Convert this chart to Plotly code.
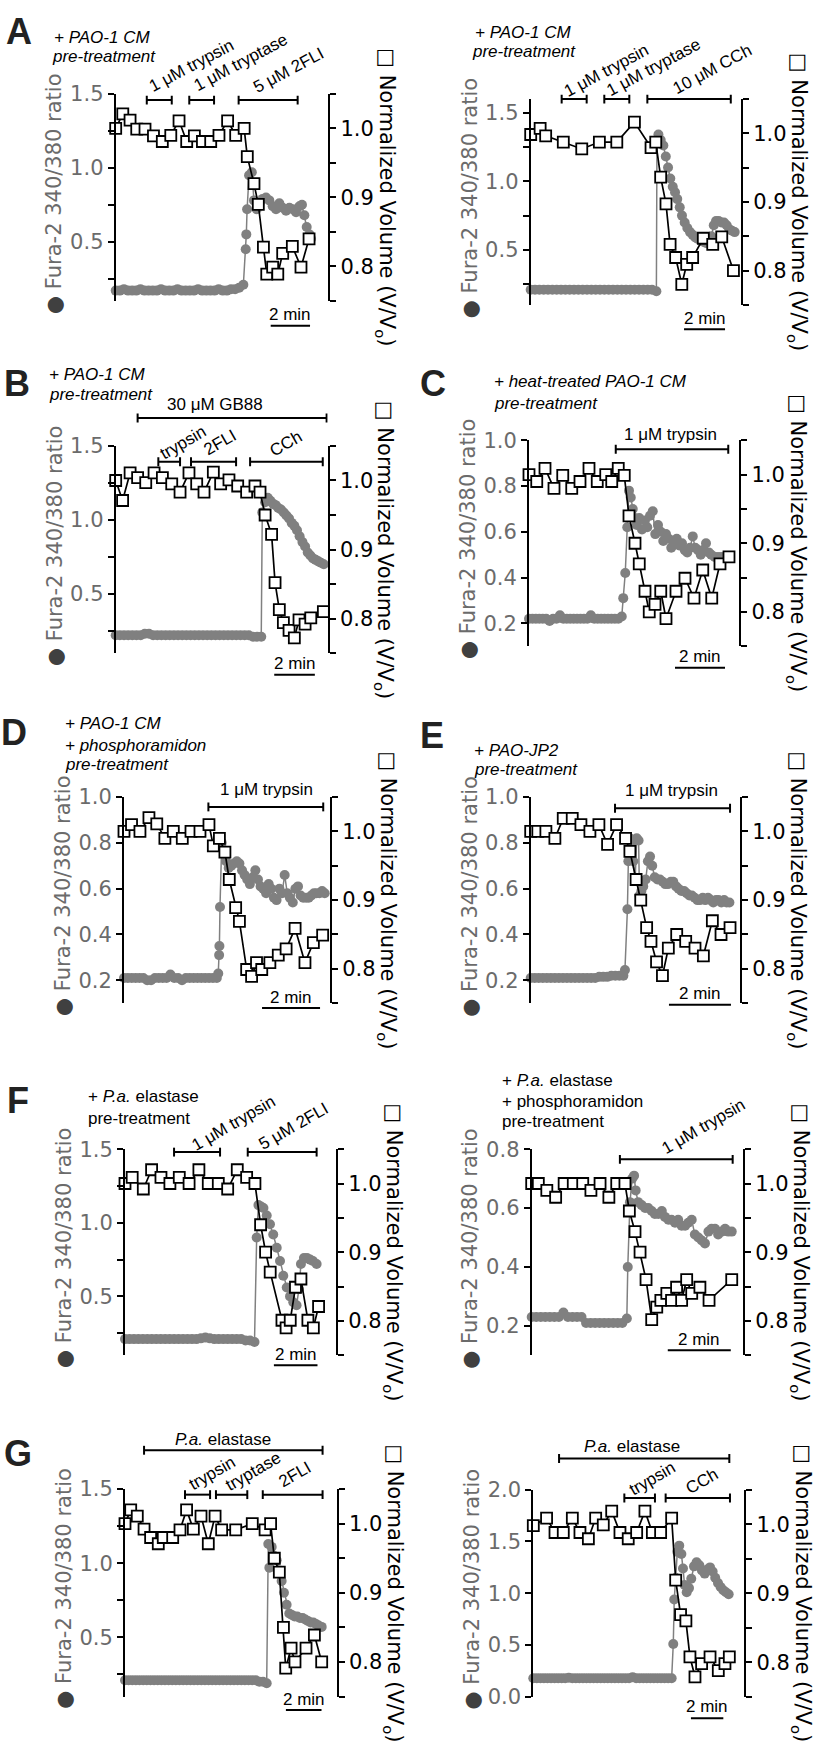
import numpy as np
import plotly.graph_objects as go

W, H = 819, 1747
FONT_AX = "DejaVu Sans, Liberation Sans, Arial, sans-serif"
FONT_TXT = "Liberation Sans, Arial, sans-serif"
CA_GRAY = "#808080"
TICK_GRAY = "#6b6b6b"

# ======================= DATA (time in minutes) =======================
# ---- Panel A, left ----
A1_sq_t = [0, 0.36, 0.73, 1.07, 1.49, 1.92, 2.37, 2.80, 3.22, 3.61, 4.0, 4.41, 4.83, 5.25, 5.69, 6.10, 6.53,
           6.69, 7.03, 7.25, 7.51, 7.68, 7.98, 8.24, 8.49, 8.98, 9.42, 9.83]
A1_sq_v = [1.0, 1.021, 1.012, 0.999, 0.999, 0.989, 0.981, 0.990, 1.011, 0.981, 0.989, 0.981, 0.981, 0.990, 1.011,
           0.990, 1.0, 0.959, 0.920, 0.890, 0.828, 0.789, 0.799, 0.789, 0.819, 0.829, 0.799, 0.840]
A1_pre_end = 6.49
A1_ca_pre = [0.17, 0.17, 0.18, 0.17, 0.17, 0.17, 0.18, 0.17, 0.17, 0.17, 0.17, 0.18, 0.17, 0.17, 0.17, 0.18,
             0.17, 0.17, 0.17, 0.17, 0.18, 0.17, 0.17, 0.17, 0.17, 0.18, 0.17, 0.17, 0.18, 0.18, 0.19, 0.21]
A1_ca_post_t = [6.61, 6.64, 6.68, 6.78, 6.92, 7.03, 7.17, 7.31, 7.47, 7.64, 7.81, 7.98, 8.15, 8.32, 8.49, 8.66,
                8.83, 9.0, 9.17, 9.34, 9.47, 9.59, 9.71, 9.85, 9.93]
A1_ca_post_v = [0.45, 0.55, 0.72, 0.95, 0.97, 0.78, 0.72, 0.76, 0.79, 0.80, 0.78, 0.74, 0.72, 0.76, 0.73, 0.71,
                0.73, 0.72, 0.70, 0.74, 0.75, 0.68, 0.60, 0.55, 0.52]
A1_tr_names = ["1 μM trypsin", "1 μM tryptase", "5 μM 2FLI"]
A1_tr_start = [1.58, 3.74, 6.25]
A1_tr_end = [2.85, 5.0, 9.25]
A1_pretreat = ["<i>+ PAO-1 CM</i>", "<i>pre-treatment</i>"]

# ---- Panel A, right ----
A2_sq_t = [0, 0.46, 0.73, 1.59, 2.49, 3.35, 4.2, 5.06, 5.87, 6.1, 6.34, 6.6, 6.80, 7.07, 7.37, 7.61, 7.9, 8.42,
           8.88, 9.32, 9.89]
A2_sq_v = [0.998, 1.007, 0.996, 0.987, 0.977, 0.987, 0.987, 1.016, 0.979, 0.987, 0.936, 0.897, 0.838, 0.819, 0.780,
           0.809, 0.819, 0.847, 0.838, 0.849, 0.800]
A2_pre_end = 6.13
A2_ca_pre = [0.21, 0.21, 0.21, 0.21, 0.21, 0.21, 0.21, 0.21, 0.21, 0.21, 0.21, 0.21, 0.21, 0.21, 0.21, 0.21,
             0.21, 0.21, 0.21, 0.21, 0.21, 0.21, 0.21, 0.21, 0.21, 0.21, 0.21, 0.21, 0.21, 0.20]
A2_ca_post_t = [6.16, 6.23, 6.34, 6.47, 6.59, 6.70, 6.81, 6.93, 7.04, 7.15, 7.27, 7.38, 7.51, 7.64, 7.77, 7.90,
                8.03, 8.16, 8.29, 8.42, 8.55, 8.68, 8.81, 8.93, 9.04, 9.17, 9.30, 9.43, 9.56, 9.69, 9.82, 9.95]
A2_ca_post_v = [1.30, 1.34, 1.30, 1.26, 1.18, 1.10, 1.02, 0.96, 0.92, 0.87, 0.81, 0.75, 0.70, 0.66, 0.63, 0.61,
                0.59, 0.58, 0.57, 0.56, 0.55, 0.56, 0.60, 0.68, 0.71, 0.71, 0.70, 0.70, 0.68, 0.65, 0.64, 0.63]
A2_tr_names = ["1 μM trypsin", "1 μM tryptase", "10 μM CCh"]
A2_tr_start = [1.51, 3.59, 5.69]
A2_tr_end = [2.73, 4.81, 9.76]
A2_pretreat = ["<i>+ PAO-1 CM</i>", "<i>pre-treatment</i>"]

# ---- Panel B ----
B_sq_t = [0, 0.34, 0.71, 1.08, 1.48, 1.89, 2.30, 2.76, 3.17, 3.61, 3.99, 4.35, 4.81, 5.17, 5.58, 6.01, 6.45, 6.86,
          7.11, 7.36, 7.68, 7.85, 8.06, 8.26, 8.54, 8.80, 9.03, 9.33, 9.61, 10.23]
B_sq_v = [1.0, 0.971, 1.011, 1.004, 0.997, 1.011, 1.004, 0.995, 0.983, 1.011, 0.995, 0.983, 1.012, 0.995, 1.001,
          0.992, 0.983, 0.992, 0.983, 0.950, 0.922, 0.852, 0.813, 0.794, 0.783, 0.772, 0.798, 0.792, 0.801, 0.810]
B_pre_end = 7.17
B_ca_pre = [0.22, 0.22, 0.22, 0.22, 0.22, 0.22, 0.22, 0.23, 0.23, 0.22, 0.22, 0.22, 0.22, 0.22, 0.22, 0.22, 0.22,
            0.22, 0.22, 0.22, 0.22, 0.22, 0.22, 0.22, 0.22, 0.22, 0.22, 0.22, 0.22, 0.22, 0.22, 0.22, 0.22, 0.21,
            0.21, 0.21]
B_ca_post_t = [7.22, 7.36, 7.49, 7.62, 7.75, 7.88, 8.01, 8.14, 8.28, 8.41, 8.54, 8.67, 8.80, 8.93, 9.06, 9.20, 9.33,
               9.46, 9.59, 9.72, 9.85, 9.98, 10.11, 10.25]
B_ca_post_v = [1.05, 1.12, 1.15, 1.13, 1.11, 1.10, 1.08, 1.07, 1.05, 1.03, 1.01, 0.98, 0.96, 0.93, 0.89, 0.85, 0.82,
               0.78, 0.76, 0.74, 0.73, 0.72, 0.71, 0.70]
B_tr_names = ["30 μM GB88", "trypsin", "2FLI", "CCh"]
B_tr_start = [1.08, 2.10, 3.71, 6.62]
B_tr_end = [10.39, 3.17, 5.93, 10.2]
B_pretreat = ["<i>+ PAO-1 CM</i>", "<i>pre-treatment</i>"]

# ---- Panel C ----
C_sq_t = [0, 0.31, 0.64, 1.0, 1.35, 1.71, 2.04, 2.4, 2.73, 3.07, 3.31, 3.57, 3.81, 4.0, 4.24, 4.41, 4.64, 4.81,
          5.04, 5.27, 5.48, 5.88, 6.24, 6.6, 6.95, 7.31, 7.64, 8.0]
C_sq_v = [1.0, 0.990, 1.009, 0.980, 0.999, 0.980, 0.990, 1.009, 0.990, 1.0, 0.990, 1.009, 0.999, 0.940, 0.900,
          0.870, 0.830, 0.800, 0.811, 0.830, 0.790, 0.830, 0.849, 0.820, 0.861, 0.820, 0.870, 0.880]
C_pre_end = 3.71
C_ca_pre = [0.22, 0.22, 0.22, 0.22, 0.22, 0.22, 0.21, 0.22, 0.22, 0.235, 0.22, 0.22, 0.22, 0.22, 0.22, 0.22, 0.22,
            0.22, 0.235, 0.22, 0.22, 0.22, 0.22, 0.22, 0.22, 0.22, 0.22, 0.23]
C_ca_post_t = [3.77, 3.85, 3.93, 4.0, 4.07, 4.15, 4.23, 4.31, 4.41, 4.52, 4.63, 4.73, 4.84, 4.95, 5.05, 5.16, 5.27,
               5.37, 5.48, 5.59, 5.69, 5.80, 5.91, 6.01, 6.12, 6.23, 6.33, 6.44, 6.55, 6.65, 6.76, 6.87, 6.97, 7.08,
               7.19, 7.29, 7.43, 7.56, 7.69, 7.83, 7.96]
C_ca_post_v = [0.31, 0.42, 0.62, 0.78, 0.75, 0.70, 0.66, 0.63, 0.66, 0.61, 0.65, 0.62, 0.67, 0.69, 0.59, 0.63, 0.60,
               0.56, 0.59, 0.57, 0.53, 0.56, 0.57, 0.54, 0.55, 0.52, 0.51, 0.53, 0.58, 0.53, 0.52, 0.50, 0.52, 0.55,
               0.51, 0.50, 0.49, 0.49, 0.49, 0.49, 0.49]
C_tr_names = ["1 μM trypsin"]
C_tr_start = [3.47]
C_tr_end = [7.97]
C_pretreat = ["<i>+ heat-treated PAO-1 CM</i>", "<i>pre-treatment</i>"]

# ---- Panel D ----
D_sq_t = [0, 0.26, 0.55, 0.86, 1.13, 1.41, 1.70, 2.01, 2.31, 2.62, 2.93, 3.08, 3.29, 3.48, 3.63, 3.85, 3.98, 4.23,
          4.40, 4.57, 4.75, 5.03, 5.32, 5.59, 5.90, 6.24, 6.53, 6.85]
D_sq_v = [1.0, 1.010, 1.0, 1.020, 1.011, 0.990, 1.0, 0.990, 1.0, 1.0, 1.010, 0.979, 0.990, 0.970, 0.930, 0.889,
          0.869, 0.799, 0.789, 0.809, 0.799, 0.809, 0.820, 0.829, 0.859, 0.809, 0.838, 0.849]
D_pre_end = 3.2
D_ca_pre = [0.21, 0.21, 0.21, 0.21, 0.21, 0.21, 0.20, 0.20, 0.21, 0.21, 0.21, 0.21, 0.225, 0.21, 0.21, 0.20, 0.21,
            0.21, 0.21, 0.21, 0.21, 0.21, 0.21, 0.21, 0.21]
D_ca_post_t = [3.25, 3.28, 3.29, 3.31, 3.37, 3.43, 3.52, 3.61, 3.70, 3.79, 3.89, 3.98, 4.07, 4.16, 4.25, 4.34, 4.44,
               4.53, 4.62, 4.71, 4.80, 4.90, 4.99, 5.08, 5.17, 5.26, 5.36, 5.45, 5.54, 5.63, 5.72, 5.82, 5.91, 6.00,
               6.09, 6.18, 6.28, 6.37, 6.46, 6.55, 6.64, 6.74, 6.83, 6.92]
D_ca_post_v = [0.23, 0.31, 0.35, 0.52, 0.80, 0.77, 0.72, 0.69, 0.70, 0.71, 0.72, 0.71, 0.68, 0.66, 0.64, 0.62, 0.65,
               0.68, 0.64, 0.61, 0.60, 0.58, 0.62, 0.60, 0.56, 0.55, 0.60, 0.58, 0.66, 0.58, 0.56, 0.54, 0.60, 0.61,
               0.57, 0.56, 0.56, 0.56, 0.57, 0.58, 0.58, 0.58, 0.59, 0.58]
D_tr_names = ["1 μM trypsin"]
D_tr_start = [2.91]
D_tr_end = [6.87]
D_pretreat = ["<i>+ PAO-1 CM</i>", "<i>+ phosphoramidon</i>", "<i>pre-treatment</i>"]

# ---- Panel E ----
E_sq_t = [0, 0.23, 0.49, 0.78, 1.05, 1.34, 1.62, 1.91, 2.20, 2.48, 2.77, 3.06, 3.20, 3.40, 3.55, 3.74, 3.88, 4.06,
          4.25, 4.44, 4.71, 5.0, 5.30, 5.57, 5.86, 6.14, 6.43]
E_sq_v = [1.0, 1.0, 1.0, 0.990, 1.019, 1.019, 1.010, 1.0, 1.010, 0.981, 1.010, 0.990, 0.971, 0.930, 0.900, 0.860,
          0.840, 0.810, 0.790, 0.830, 0.850, 0.840, 0.830, 0.819, 0.870, 0.850, 0.860]
E_pre_end = 2.99
E_ca_pre = [0.21, 0.21, 0.21, 0.21, 0.21, 0.21, 0.21, 0.21, 0.21, 0.21, 0.21, 0.21, 0.21, 0.21, 0.21, 0.21, 0.21,
            0.215, 0.215, 0.215, 0.22, 0.22, 0.22, 0.22]
E_ca_post_t = [3.04, 3.12, 3.15, 3.20, 3.26, 3.31, 3.37, 3.42, 3.48, 3.51, 3.57, 3.63, 3.71, 3.78, 3.85, 3.92, 4.0,
               4.09, 4.17, 4.26, 4.34, 4.43, 4.52, 4.60, 4.69, 4.77, 4.86, 4.95, 5.03, 5.12, 5.20, 5.29, 5.38, 5.46,
               5.55, 5.63, 5.72, 5.81, 5.89, 5.98, 6.06, 6.15, 6.24, 6.32, 6.41]
E_ca_post_v = [0.245, 0.51, 0.72, 0.82, 0.80, 0.72, 0.64, 0.82, 0.81, 0.57, 0.59, 0.61, 0.64, 0.72, 0.74, 0.70,
               0.65, 0.64, 0.64, 0.63, 0.62, 0.62, 0.63, 0.63, 0.61, 0.60, 0.59, 0.59, 0.58, 0.57, 0.57, 0.56, 0.55,
               0.55, 0.56, 0.55, 0.56, 0.55, 0.54, 0.55, 0.55, 0.54, 0.55, 0.54, 0.54]
E_tr_names = ["1 μM trypsin"]
E_tr_start = [2.72]
E_tr_end = [6.43]
E_pretreat = ["<i>+ PAO-JP2</i>", "<i>pre-treatment</i>"]

# ---- Panel F, left ----
F1_sq_t = [0, 0.33, 0.84, 1.22, 1.65, 2.06, 2.49, 2.94, 3.39, 3.82, 4.28, 4.71, 5.15, 5.58, 5.96, 6.22, 6.45, 6.66,
           7.2, 7.39, 7.58, 7.82, 8.07, 8.39, 8.64, 8.88]
F1_sq_v = [1.0, 1.009, 0.992, 1.020, 1.009, 1.0, 1.009, 1.0, 1.020, 1.0, 1.0, 0.992, 1.020, 1.009, 1.0, 0.940,
           0.900, 0.871, 0.801, 0.790, 0.801, 0.849, 0.861, 0.801, 0.790, 0.821]
F1_pre_end = 5.94
F1_ca_pre = [0.21, 0.21, 0.21, 0.21, 0.21, 0.21, 0.21, 0.21, 0.21, 0.21, 0.21, 0.21, 0.21, 0.21, 0.21, 0.21, 0.21,
             0.215, 0.22, 0.215, 0.21, 0.21, 0.21, 0.21, 0.21, 0.21, 0.21, 0.20, 0.20, 0.19]
F1_ca_post_t = [6.04, 6.12, 6.24, 6.35, 6.50, 6.65, 6.80, 6.96, 7.11, 7.26, 7.42, 7.57, 7.72, 7.87, 7.98, 8.07,
                8.21, 8.35, 8.49, 8.62, 8.79]
F1_ca_post_v = [0.90, 1.12, 1.11, 1.10, 1.05, 0.99, 0.92, 0.83, 0.74, 0.64, 0.56, 0.50, 0.46, 0.44, 0.55, 0.72,
                0.76, 0.76, 0.75, 0.74, 0.72]
F1_tr_names = ["1 μM trypsin", "5 μM 2FLI"]
F1_tr_start = [2.25, 5.63]
F1_tr_end = [4.36, 8.79]
F1_pretreat = ["+ <i>P.a.</i> elastase", "pre-treatment"]

# ---- Panel F, right ----
F2_sq_t = [0, 0.21, 0.48, 0.76, 1.03, 1.32, 1.62, 1.88, 2.17, 2.45, 2.70, 2.96, 3.10, 3.28, 3.44, 3.63, 3.81, 3.97,
           4.10, 4.29, 4.44, 4.60, 4.76, 4.92, 5.08, 5.34, 5.63, 6.35]
F2_sq_v = [1.0, 1.0, 0.990, 0.980, 1.0, 1.0, 1.0, 0.990, 1.0, 0.980, 1.0, 1.0, 0.960, 0.930, 0.900, 0.860, 0.802,
           0.820, 0.830, 0.840, 0.830, 0.849, 0.830, 0.860, 0.840, 0.849, 0.830, 0.860]
F2_pre_end = 3.02
F2_ca_pre = [0.23, 0.23, 0.23, 0.23, 0.23, 0.23, 0.23, 0.245, 0.23, 0.23, 0.23, 0.23, 0.21, 0.21, 0.21, 0.21, 0.21,
             0.21, 0.21, 0.21, 0.21, 0.225]
F2_ca_post_t = [3.05, 3.12, 3.19, 3.25, 3.30, 3.38, 3.49, 3.60, 3.70, 3.81, 3.91, 4.02, 4.13, 4.23, 4.34, 4.44, 4.55,
                4.65, 4.76, 4.87, 4.97, 5.08, 5.18, 5.29, 5.40, 5.50, 5.61, 5.71, 5.82, 5.92, 6.03, 6.14, 6.24, 6.35]
F2_ca_post_v = [0.40, 0.62, 0.70, 0.71, 0.66, 0.62, 0.61, 0.60, 0.60, 0.59, 0.58, 0.58, 0.59, 0.57, 0.56, 0.56, 0.55,
                0.56, 0.54, 0.54, 0.55, 0.56, 0.51, 0.50, 0.49, 0.48, 0.52, 0.53, 0.53, 0.51, 0.52, 0.53, 0.52, 0.52]
F2_tr_names = ["1 μM trypsin"]
F2_tr_start = [2.80]
F2_tr_end = [6.38]
F2_pretreat = ["+ <i>P.a.</i> elastase", "+ phosphoramidon", "pre-treatment"]

# ---- Panel G, left ----
G1_sq_t = [0, 0.32, 0.69, 1.07, 1.44, 1.87, 2.15, 2.68, 3.09, 3.46, 3.84, 4.27, 4.68, 5.06, 5.43, 6.22, 7.15, 7.87,
           8.18, 8.39, 8.67, 8.90, 9.03, 9.33, 9.55, 10.17, 10.64, 11.05]
G1_sq_v = [1.0, 1.020, 1.011, 0.992, 0.980, 0.971, 0.980, 0.980, 0.991, 1.020, 0.992, 1.011, 0.971, 1.011, 0.991,
           0.991, 1.0, 0.991, 1.0, 0.950, 0.930, 0.850, 0.791, 0.820, 0.800, 0.820, 0.839, 0.800]
G1_pre_end = 7.96
G1_ca_pre = [0.21, 0.21, 0.21, 0.21, 0.21, 0.21, 0.21, 0.21, 0.21, 0.21, 0.21, 0.21, 0.21, 0.21, 0.21, 0.21, 0.21,
             0.21, 0.21, 0.21, 0.21, 0.21, 0.21, 0.21, 0.21, 0.21, 0.21, 0.21, 0.21, 0.21, 0.21, 0.21, 0.21, 0.21,
             0.21, 0.21, 0.21, 0.20, 0.20, 0.19]
G1_ca_post_t = [8.05, 8.11, 8.24, 8.37, 8.52, 8.67, 8.80, 8.93, 9.08, 9.23, 9.38, 9.53, 9.68, 9.83, 9.98, 10.13,
                10.28, 10.43, 10.58, 10.73, 10.88, 11.05]
G1_ca_post_v = [1.13, 0.97, 1.11, 1.05, 1.02, 0.95, 0.88, 0.80, 0.72, 0.66, 0.65, 0.64, 0.64, 0.63, 0.63, 0.62,
                0.61, 0.60, 0.60, 0.59, 0.58, 0.57]
G1_tr_names = ["<i>P.a.</i> elastase", "trypsin", "tryptase", "2FLI"]
G1_tr_start = [1.07, 3.37, 5.11, 7.74]
G1_tr_end = [11.1, 4.78, 6.87, 11.1]

# ---- Panel G, right ----
G2_sq_t = [0, 0.82, 1.34, 1.85, 2.41, 2.88, 3.40, 3.85, 4.32, 4.84, 5.35, 5.86, 6.38, 6.89, 7.35, 7.86, 8.54, 8.79,
           9.09, 9.42, 9.67, 9.98, 10.39, 10.91, 11.42, 11.83, 12.10]
G2_sq_v = [0.998, 1.009, 0.988, 0.988, 1.009, 0.988, 0.979, 1.009, 0.999, 1.019, 0.988, 0.979, 0.988, 1.019, 0.988,
           0.988, 1.009, 0.919, 0.869, 0.860, 0.808, 0.779, 0.798, 0.808, 0.788, 0.798, 0.808]
G2_pre_end = 8.54
G2_ca_pre = [0.18, 0.18, 0.18, 0.18, 0.18, 0.18, 0.18, 0.18, 0.18, 0.18, 0.185, 0.18, 0.18, 0.18, 0.18, 0.18, 0.18,
             0.18, 0.18, 0.18, 0.18, 0.18, 0.18, 0.18, 0.18, 0.18, 0.18, 0.18, 0.19, 0.18, 0.18, 0.18, 0.18, 0.18,
             0.18, 0.18, 0.18, 0.18, 0.18, 0.18]
G2_ca_post_t = [8.64, 8.70, 8.79, 8.89, 9.01, 9.14, 9.24, 9.34, 9.47, 9.61, 9.75, 9.92, 10.08, 10.25, 10.41, 10.58,
                10.74, 10.91, 11.07, 11.23, 11.40, 11.56, 11.73, 11.89, 12.06]
G2_ca_post_v = [0.51, 0.94, 1.15, 1.40, 1.46, 1.38, 1.24, 1.08, 1.01, 1.05, 1.14, 1.26, 1.30, 1.27, 1.22, 1.19,
                1.23, 1.25, 1.21, 1.15, 1.10, 1.06, 1.03, 1.01, 0.99]
G2_tr_names = ["<i>P.a.</i> elastase", "trypsin", "CCh"]
G2_tr_start = [1.59, 5.62, 8.17]
G2_tr_end = [12.1, 7.51, 12.14]

SCALE_MIN = 2  # scale bar length (min)

# ======================= LAYOUT (pixels of the 819x1747 page) =======================
PANELS = [
    dict(key="A1", sq_t=A1_sq_t, sq_v=A1_sq_v, pre=A1_ca_pre, pre_end=A1_pre_end, pt=A1_ca_post_t, pv=A1_ca_post_v,
         trn=A1_tr_names, trs=A1_tr_start, tre=A1_tr_end, pretreat=A1_pretreat),
    dict(key="A2", sq_t=A2_sq_t, sq_v=A2_sq_v, pre=A2_ca_pre, pre_end=A2_pre_end, pt=A2_ca_post_t, pv=A2_ca_post_v,
         trn=A2_tr_names, trs=A2_tr_start, tre=A2_tr_end, pretreat=A2_pretreat),
    dict(key="B", sq_t=B_sq_t, sq_v=B_sq_v, pre=B_ca_pre, pre_end=B_pre_end, pt=B_ca_post_t, pv=B_ca_post_v,
         trn=B_tr_names, trs=B_tr_start, tre=B_tr_end, pretreat=B_pretreat),
    dict(key="C", sq_t=C_sq_t, sq_v=C_sq_v, pre=C_ca_pre, pre_end=C_pre_end, pt=C_ca_post_t, pv=C_ca_post_v,
         trn=C_tr_names, trs=C_tr_start, tre=C_tr_end, pretreat=C_pretreat),
    dict(key="D", sq_t=D_sq_t, sq_v=D_sq_v, pre=D_ca_pre, pre_end=D_pre_end, pt=D_ca_post_t, pv=D_ca_post_v,
         trn=D_tr_names, trs=D_tr_start, tre=D_tr_end, pretreat=D_pretreat),
    dict(key="E", sq_t=E_sq_t, sq_v=E_sq_v, pre=E_ca_pre, pre_end=E_pre_end, pt=E_ca_post_t, pv=E_ca_post_v,
         trn=E_tr_names, trs=E_tr_start, tre=E_tr_end, pretreat=E_pretreat),
    dict(key="F1", sq_t=F1_sq_t, sq_v=F1_sq_v, pre=F1_ca_pre, pre_end=F1_pre_end, pt=F1_ca_post_t, pv=F1_ca_post_v,
         trn=F1_tr_names, trs=F1_tr_start, tre=F1_tr_end, pretreat=F1_pretreat),
    dict(key="F2", sq_t=F2_sq_t, sq_v=F2_sq_v, pre=F2_ca_pre, pre_end=F2_pre_end, pt=F2_ca_post_t, pv=F2_ca_post_v,
         trn=F2_tr_names, trs=F2_tr_start, tre=F2_tr_end, pretreat=F2_pretreat),
    dict(key="G1", sq_t=G1_sq_t, sq_v=G1_sq_v, pre=G1_ca_pre, pre_end=G1_pre_end, pt=G1_ca_post_t, pv=G1_ca_post_v,
         trn=G1_tr_names, trs=G1_tr_start, tre=G1_tr_end, pretreat=[]),
    dict(key="G2", sq_t=G2_sq_t, sq_v=G2_sq_v, pre=G2_ca_pre, pre_end=G2_pre_end, pt=G2_ca_post_t, pv=G2_ca_post_v,
         trn=G2_tr_names, trs=G2_tr_start, tre=G2_tr_end, pretreat=[]),
]

MAJ15 = dict(rng=[0.1, 1.5], ticks=[0.5, 1.0, 1.5], minor=[0.25, 0.75, 1.25])
GEOM = {
    "A1": dict(L=115.7, R=328.3, top=83, bot=293, ppm=19.67, left=MAJ15),
    "A2": dict(L=530.7, R=741, top=88, bot=297, ppm=20.5,
               left=dict(rng=[0.1, 1.6], ticks=[0.5, 1.0, 1.5], minor=[0.25, 0.75, 1.25])),
    "B": dict(L=115.7, R=327.7, top=440, bot=650, ppm=20.3, left=MAJ15),
    "C": dict(L=529, R=739.3, top=434.3, bot=643, ppm=25,
              left=dict(rng=[0.1, 1.0], ticks=[0.2, 0.4, 0.6, 0.8, 1.0], minor=[])),
    "D": dict(L=124, R=330, top=796, bot=1005, ppm=29,
              left=dict(rng=[0.1, 1.0], ticks=[0.2, 0.4, 0.6, 0.8, 1.0], minor=[])),
    "E": dict(L=530.7, R=740, top=796, bot=1005, ppm=31,
              left=dict(rng=[0.1, 1.0], ticks=[0.2, 0.4, 0.6, 0.8, 1.0], minor=[])),
    "F1": dict(L=125, R=336, top=1153, bot=1362, ppm=21.8, left=MAJ15),
    "F2": dict(L=531.7, R=743, top=1153, bot=1362, ppm=31.5,
               left=dict(rng=[0.1, 0.8], ticks=[0.2, 0.4, 0.6, 0.8], minor=[])),
    "G1": dict(L=125, R=336.7, top=1497.7, bot=1708, ppm=17.8, left=MAJ15),
    "G2": dict(L=533.3, R=744.3, top=1498.3, bot=1708.3, ppm=16.2,
               left=dict(rng=[0.0, 2.0], ticks=[0.0, 0.5, 1.0, 1.5, 2.0], minor=[])),
}
RIGHT_RANGE = [0.75, 1.05]
RIGHT_TICKS = [0.8, 0.9, 1.0]
RIGHT_MINOR = [0.75, 0.85, 0.95, 1.05]

# treatment bar layout: (bar y px, label dx px, label dy px, label angle)
TR_LAYOUT = {
    "A1": [(89.3, 32.5, 34.3, -28), (89.3, 39, 37.6, -28), (89.3, 20, 30, -28)],
    "A2": [(88.3, 32.5, 28.3, -28), (88.3, 36.5, 31.6, -28), (88.3, 22.7, 30, -28)],
    "B": [(411.7, -17, 13.4, 0), (456, 14, 19.3, -30), (456, 6.5, 19.3, -30), (456, 0, 18, -30)],
    "C": [(443.3, -2, 15, 0)],
    "D": [(806, 1, 17.7, 0)],
    "E": [(807.3, -1, 17.3, 0)],
    "F1": [(1156, 36, 29, -30), (1156, 11, 26, -30)],
    "F2": [(1163.3, 27, 33, -30)],
    "G1": [(1458.3, -10, 11, 0), (1503.3, 14, 21.6, -30), (1503.3, 21.6, 23.3, -30), (1503.3, 2.3, 20, -30)],
    "G2": [(1466.7, -12.5, 11.7, 0), (1506.7, 12.6, 20, -30), (1506.7, 3.8, 16.7, -30)],
}
# scale bar: (start minute, line y px, text y px)
SCALE_LAYOUT = {
    "A1": (7.88, 318, 307), "A2": (7.48, 321.7, 311), "B": (7.81, 672, 661), "C": (5.84, 665, 653),
    "D": (4.76, 1010, 999), "E": (4.46, 1006.7, 995), "F1": (6.83, 1372, 1361), "F2": (4.32, 1357, 1346),
    "G1": (9.04, 1721.7, 1711), "G2": (9.73, 1730, 1718),
}
# pre-treatment text lines: list of (left x px, center y px)
PRE_POS = {
    "A1": [(51.7, 26), (50, 45)],
    "A2": [(473.3, 20.8), (470, 40)],
    "B": [(46.7, 367.5), (46.7, 387.5)],
    "C": [(491.7, 375), (491.7, 396.7)],
    "D": [(63.3, 721.7), (63.3, 743.3), (63.3, 763.3)],
    "E": [(471.7, 748.3), (471.7, 768.3)],
    "F1": [(86, 1100), (86, 1121.7)],
    "F2": [(500, 1083.3), (500, 1105), (500, 1125)],
}
LETTERS = [("A", 18.5, 20), ("B", 16.7, 376.7), ("C", 433.3, 376.7), ("D", 14, 731), ("E", 432.3, 733.3),
           ("F", 17.5, 1104), ("G", 18.3, 1461.7)]


def px(xp):
    return xp / W


def py(yp):
    return 1 - yp / H


fig = go.Figure()
layout = dict(width=W, height=H, margin=dict(l=0, r=0, t=0, b=0, pad=0), autosize=False,
              paper_bgcolor="white", plot_bgcolor="rgba(0,0,0,0)", showlegend=False)
annotations, shapes = [], []

for i, p in enumerate(PANELS, start=1):
    g = GEOM[p["key"]]
    xn = "x" if i == 1 else f"x{i}"
    yl = "y" if i == 1 else f"y{i}"
    yr = f"y{i + 10}"
    xk = "xaxis" if i == 1 else f"xaxis{i}"
    ylk = "yaxis" if i == 1 else f"yaxis{i}"
    yrk = f"yaxis{i + 10}"
    xmax = (g["R"] - g["L"]) / g["ppm"]
    ydom = [py(g["bot"]), py(g["top"])]

    layout[xk] = dict(domain=[px(g["L"]), px(g["R"])], range=[0, xmax], visible=False, anchor=yl,
                      fixedrange=True)
    lax = g["left"]
    common = dict(showline=True, linecolor="black", linewidth=2, ticks="outside", ticklen=6, tickwidth=2,
                  tickcolor="black", showgrid=False, zeroline=False, fixedrange=True, anchor=xn)
    left = dict(domain=ydom, range=lax["rng"], side="left", tickmode="array", tickvals=lax["ticks"],
                ticktext=[f"{v:.1f}" for v in lax["ticks"]],
                tickfont=dict(family=FONT_AX, size=21, color=TICK_GRAY), **common)
    if lax["minor"]:
        left["minor"] = dict(tickmode="array", tickvals=lax["minor"], ticks="outside", ticklen=6, tickwidth=2,
                             tickcolor="black", showgrid=False)
    layout[ylk] = left
    layout[yrk] = dict(domain=ydom, range=RIGHT_RANGE, side="right", overlaying=yl, tickmode="array",
                       tickvals=RIGHT_TICKS, ticktext=[f"{v:.1f}" for v in RIGHT_TICKS],
                       tickfont=dict(family=FONT_AX, size=21, color="black"),
                       minor=dict(tickmode="array", tickvals=RIGHT_MINOR, ticks="outside", ticklen=6,
                                  tickwidth=2, tickcolor="black", showgrid=False),
                       **common)

    # calcium (gray circles)
    pre_t = np.linspace(0, p["pre_end"], len(p["pre"])).tolist()
    fig.add_trace(go.Scatter(x=pre_t + p["pt"], y=p["pre"] + p["pv"], xaxis=xn, yaxis=yl, mode="lines+markers",
                             line=dict(color=CA_GRAY, width=1.5), marker=dict(color=CA_GRAY, size=10),
                             cliponaxis=False, hoverinfo="skip"))
    # volume (open squares)
    fig.add_trace(go.Scatter(x=p["sq_t"], y=p["sq_v"], xaxis=xn, yaxis=yr, mode="lines+markers",
                             line=dict(color="black", width=1.7),
                             marker=dict(symbol="square", size=11, color="white",
                                         line=dict(color="black", width=1.8)),
                             cliponaxis=False, hoverinfo="skip"))

    # axis titles
    ymid = (g["top"] + g["bot"]) / 2
    annotations.append(dict(
        text=f'<span style="color:#404040">●</span> Fura-2 340/380 ratio', x=px(g["L"] - 61), y=py(ymid - 4),
        xref="paper", yref="paper", showarrow=False, textangle=-90, xanchor="center", yanchor="middle",
        font=dict(family=FONT_AX, size=21, color=TICK_GRAY)))
    annotations.append(dict(
        text="□ Normalized Volume (V/V<sub>o</sub>)", x=px(g["R"] + 57), y=py(ymid),
        xref="paper", yref="paper", showarrow=False, textangle=90, xanchor="center", yanchor="middle",
        font=dict(family=FONT_AX, size=21, color="black")))

    # treatment bars
    for name, s, e, (by, dx, dy, ang) in zip(p["trn"], p["trs"], p["tre"], TR_LAYOUT[p["key"]]):
        yb = py(by)
        cap = 4.5 / H
        shapes.append(dict(type="line", xref=xn, yref="paper", x0=s, x1=e, y0=yb, y1=yb,
                           line=dict(color="black", width=2)))
        for xe in (s, e):
            shapes.append(dict(type="line", xref=xn, yref="paper", x0=xe, x1=xe, y0=yb - cap, y1=yb + cap,
                               line=dict(color="black", width=2)))
        annotations.append(dict(text=name, x=(s + e) / 2, y=yb, xref=xn, yref="paper", xshift=dx, yshift=dy,
                                showarrow=False, textangle=ang, xanchor="center", yanchor="middle",
                                font=dict(family=FONT_TXT, size=17, color="black")))

    # scale bar
    s0, ly, ty = SCALE_LAYOUT[p["key"]]
    shapes.append(dict(type="line", xref=xn, yref="paper", x0=s0, x1=s0 + SCALE_MIN, y0=py(ly), y1=py(ly),
                       line=dict(color="black", width=2)))
    annotations.append(dict(text=f"{SCALE_MIN} min", x=s0 + SCALE_MIN / 2, y=py(ty), xref=xn, yref="paper",
                            showarrow=False, xanchor="center", yanchor="middle",
                            font=dict(family=FONT_TXT, size=17, color="black")))

    # pre-treatment description
    for txt, (tx, tyy) in zip(p["pretreat"], PRE_POS.get(p["key"], [])):
        annotations.append(dict(text=txt, x=px(tx), y=py(tyy), xref="paper", yref="paper", showarrow=False,
                                xanchor="left", yanchor="middle",
                                font=dict(family=FONT_TXT, size=17, color="black")))

for letter, lx, ly in LETTERS:
    annotations.append(dict(text=f"<b>{letter}</b>", x=px(lx), y=py(ly), xref="paper", yref="paper",
                            showarrow=False, xanchor="center", yanchor="middle",
                            font=dict(family=FONT_TXT, size=36, color="#222222")))

layout["annotations"] = annotations
layout["shapes"] = shapes
fig.update_layout(**layout)

# pin the graph to the page's top-left corner (no default body margin)
PIN_JS = ("document.documentElement.style.margin='0';document.body.style.margin='0';"
          "document.body.style.overflow='hidden';"
          "var gd=document.getElementById('{plot_id}');gd.style.position='absolute';"
          "gd.style.left='0px';gd.style.top='0px';")
fig.write_html("out.html", post_script=PIN_JS, config={"displayModeBar": False, "staticPlot": True})
